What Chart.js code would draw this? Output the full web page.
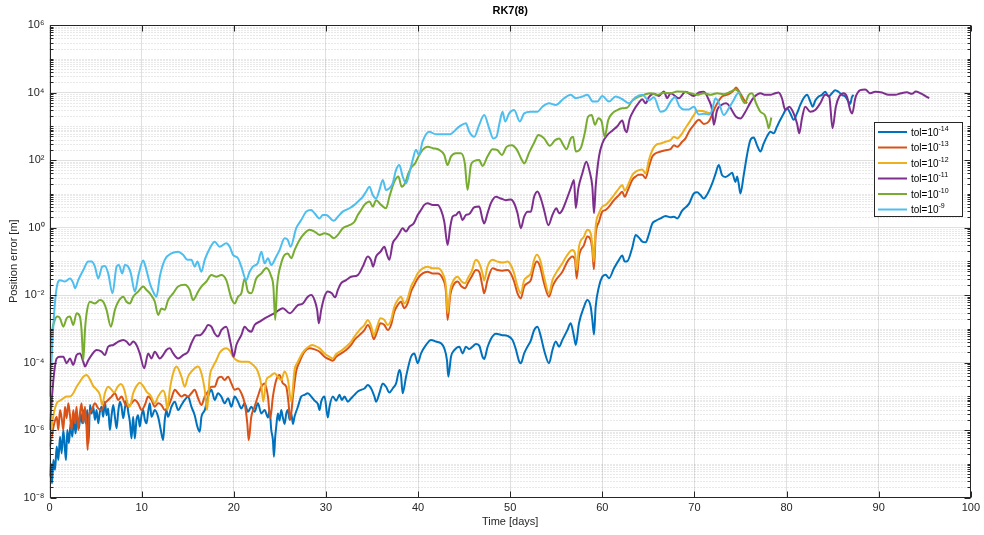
<!DOCTYPE html>
<html><head><meta charset="utf-8">
<script src="https://cdn.jsdelivr.net/npm/chart.js@4.4.1/dist/chart.umd.min.js"></script>
<style>html,body{margin:0;padding:0;background:#fff}canvas{display:block}</style>
</head><body>
<canvas id="c" width="984" height="535"></canvas>
<script>
// ---------- data (x = time in days, y = position error in m) ----------
const SERIES_NAMES = ['tol=10⁻¹⁴','tol=10⁻¹³','tol=10⁻¹²','tol=10⁻¹¹','tol=10⁻¹⁰','tol=10⁻⁹'];
const LEGEND_BASE = 'tol=10';
const LEGEND_EXP = ['-14','-13','-12','-11','-10','-9'];
const COLORS = ['#0072BD','#D95319','#EDB120','#7E2F8E','#77AC30','#4DBEEE'];
const X_TICKS = [0,10,20,30,40,50,60,70,80,90,100];
const Y_TICKS = [1e-8,1e-6,1e-4,1e-2,1,1e2,1e4,1e6];
const Y_TICK_LABELS = ['10⁻⁸','10⁻⁶','10⁻⁴','10⁻²','10⁰','10²','10⁴','10⁶'];

const tol14 = [[0.05,4.17e-8],[0.16,1.02e-7],[0.27,2.63e-8],[0.42,1.29e-7],[0.6,6.61e-8],[0.78,3.24e-7],[0.96,1.29e-7],[1.14,6.31e-7],[1.32,2.04e-7],[1.5,1.0e-6],[1.68,2.57e-7],[1.79,1.29e-7],[1.93,1.0e-6],[2.11,4.07e-7],[2.29,1.58e-6],[2.47,6.31e-7],[2.65,2.0e-6],[2.83,7.94e-7],[3.02,2.45e-6],[3.2,1.12e-6],[3.38,3.09e-6],[3.56,1.58e-6],[3.74,3.89e-6],[3.92,1.58e-6],[4.1,3.89e-6],[4.24,4.07e-7],[4.39,5.5e-6],[4.57,3.09e-6],[4.75,4.9e-6],[4.93,2.0e-6],[5.11,3.89e-6],[5.29,1.58e-6],[5.47,3.47e-6],[5.65,4.9e-6],[5.83,2.45e-6],[6.01,6.92e-6],[6.19,2.75e-6],[6.37,4.37e-6],[6.55,1.0e-6],[6.74,2.75e-6],[6.92,5.5e-6],[7.1,2.45e-6],[7.28,1.12e-6],[7.46,3.47e-6],[7.64,6.92e-6],[7.82,4.9e-6],[8.0,2.24e-6],[8.18,4.37e-6],[8.36,7.76e-6],[8.54,3.47e-6],[8.72,1.78e-6],[8.9,5.62e-7],[9.08,2.45e-6],[9.26,5.62e-7],[9.44,2.0e-6],[9.62,2.75e-6],[9.8,1.26e-6],[9.99,2.75e-6],[10.17,3.89e-6],[10.35,2.0e-6],[10.53,1.58e-6],[10.71,3.47e-6],[10.89,6.17e-6],[11.07,2.45e-6],[11.43,3.89e-6],[11.79,2.45e-6],[12.08,1.0e-6],[12.33,5.01e-7],[12.51,2.0e-6],[12.69,3.89e-6],[12.87,2.45e-6],[13.24,4.9e-6],[13.6,6.92e-6],[13.96,3.89e-6],[14.32,5.5e-6],[14.68,7.76e-6],[15.04,9.77e-6],[15.4,4.9e-6],[15.76,2.75e-6],[16.05,1.26e-6],[16.31,8.91e-7],[16.49,2.45e-6],[16.85,3.89e-6],[17.21,9.77e-6],[17.57,1.55e-5],[17.93,7.76e-6],[18.29,1.23e-5],[18.65,9.77e-6],[19.01,6.17e-6],[19.38,8.71e-6],[19.74,4.9e-6],[20.1,9.77e-6],[20.46,6.92e-6],[20.82,4.37e-6],[21.18,6.17e-6],[21.54,3.47e-6],[21.9,4.9e-6],[22.26,3.47e-6],[22.62,6.17e-6],[22.99,3.09e-6],[23.35,3.89e-6],[23.71,2.34e-6],[23.89,3.89e-6],[24.07,1.0e-6],[24.25,5.01e-7],[24.36,1.62e-7],[24.5,6.31e-7],[24.61,1.26e-6],[24.79,3.09e-6],[24.97,1.91e-6],[25.15,3.89e-6],[25.33,2.34e-6],[25.52,1.51e-6],[25.7,3.09e-6],[25.88,3.89e-6],[26.06,2.0e-6],[26.24,3.09e-6],[26.42,1.51e-6],[26.6,2.51e-6],[26.96,4.9e-6],[27.32,9.77e-6],[27.68,1.10e-5],[28.04,1.23e-5],[28.41,9.77e-6],[28.77,7.41e-6],[29.13,5.89e-6],[29.31,3.89e-6],[29.49,6.92e-6],[29.85,9.77e-6],[30.21,2.34e-6],[30.39,4.9e-6],[30.75,9.77e-6],[31.12,7.41e-6],[31.47,1.10e-5],[31.73,7.76e-6],[32.02,9.77e-6],[32.38,6.92e-6],[32.74,8.71e-6],[33.1,1.10e-5],[33.46,1.38e-5],[33.82,1.55e-5],[34.18,1.70e-5],[34.55,2.14e-5],[34.91,1.70e-5],[35.27,9.77e-6],[35.45,6.92e-6],[35.81,1.23e-5],[36.17,2.4e-5],[36.53,1.91e-5],[36.89,1.29e-5],[37.25,1.70e-5],[37.62,2.4e-5],[37.98,6.03e-5],[38.15,4.27e-5],[38.33,1.23e-5],[38.7,3.8e-5],[39.24,1.48e-4],[39.6,1.86e-4],[39.96,9.55e-5],[40.33,1.86e-4],[40.87,3.31e-4],[41.41,4.68e-4],[41.95,4.17e-4],[42.49,3.72e-4],[42.85,2.63e-4],[43.14,1.17e-4],[43.29,3.8e-5],[43.58,1.48e-4],[43.94,2.34e-4],[44.48,2.95e-4],[44.84,1.86e-4],[45.2,2.95e-4],[45.56,2.51e-4],[45.92,2.95e-4],[46.28,3.55e-4],[46.64,3.16e-4],[47.0,1.48e-4],[47.18,1.26e-4],[47.54,2.82e-4],[47.91,5.01e-4],[48.45,7.08e-4],[49.17,6.46e-4],[49.71,6.17e-4],[50.25,4.68e-4],[50.61,2.51e-4],[50.98,1.07e-4],[51.16,9.55e-5],[51.52,1.86e-4],[51.88,2.95e-4],[52.24,4.47e-4],[52.6,9.12e-4],[52.96,1.15e-3],[53.33,5.89e-4],[53.68,2.34e-4],[54.22,9.55e-5],[54.59,2.34e-4],[54.95,4.17e-4],[55.31,2.95e-4],[55.67,4.68e-4],[56.21,9.12e-4],[56.57,1.45e-3],[56.93,5.89e-4],[57.12,3.31e-4],[57.47,1.45e-3],[58.01,4.47e-3],[58.38,7.08e-3],[58.74,4.47e-3],[58.92,1.82e-3],[59.1,6.76e-4],[59.28,4.47e-3],[59.64,1.78e-2],[60.0,3.47e-2],[60.37,3.98e-2],[60.73,3.16e-2],[61.27,6.17e-2],[61.81,1.10e-1],[62.17,1.48e-1],[62.43,9.77e-2],[62.71,1.0e-1],[63.25,2.51e-1],[63.62,6.03e-1],[63.98,5.01e-1],[64.34,3.8e-1],[64.7,3.63e-1],[65.06,6.31e-1],[65.43,1.32],[65.79,1.58],[66.33,1.86],[66.87,2.19],[67.41,2.0],[67.77,2.09],[68.13,1.86],[68.67,3.16],[69.4,5.01],[69.94,10.2],[70.3,11.0],[70.66,9.12],[71.02,7.24],[71.38,9.55],[71.92,20],[72.28,38.0],[72.64,70.8],[73.0,35.5],[73.37,31.6],[73.73,35.5],[74.09,41.7],[74.45,22.4],[74.63,32.4],[74.81,19.5],[74.99,10.2],[75.35,35.5],[75.71,141],[76.07,389],[76.43,468],[76.79,275],[77.16,178],[77.52,309],[77.88,501],[78.24,692],[78.6,617],[78.96,977],[79.32,1550],[79.69,2400],[80.05,3390],[80.41,2400],[80.77,1550],[81.13,2400],[81.49,4270],[81.85,6760],[82.22,8510],[82.58,5370],[82.83,3800],[83.12,5750],[83.48,7590],[83.84,8510],[84.2,10500],[84.56,7590],[84.92,9550],[85.28,11700],[85.64,10500],[86.01,8510],[86.37,7590],[86.73,5370],[86.91,4570],[87.09,7240],[87.27,8510]];

const tol13 = [[0.05,3.24e-7],[0.23,6.31e-7],[0.52,1.58e-6],[0.78,2.45e-6],[0.96,1.0e-6],[1.14,3.89e-6],[1.32,2.24e-6],[1.5,1.0e-6],[1.68,4.9e-6],[1.86,2.24e-6],[2.04,6.17e-6],[2.22,2.75e-6],[2.4,1.0e-6],[2.58,3.89e-6],[2.76,1.58e-6],[2.94,4.9e-6],[3.12,1.0e-6],[3.3,3.09e-6],[3.48,6.17e-6],[3.67,1.58e-6],[3.85,4.9e-6],[4.03,1.0e-6],[4.14,2.57e-7],[4.28,2.45e-6],[4.57,3.89e-6],[4.93,6.17e-6],[5.29,4.37e-6],[5.65,3.89e-6],[6.01,6.17e-6],[6.37,7.76e-6],[6.74,9.77e-6],[7.1,1.23e-5],[7.46,7.76e-6],[7.82,9.77e-6],[8.18,6.17e-6],[8.54,4.9e-6],[8.9,6.17e-6],[9.26,7.76e-6],[9.62,6.17e-6],[9.99,3.89e-6],[10.35,5.5e-6],[10.71,9.77e-6],[11.07,7.76e-6],[11.43,4.9e-6],[11.79,6.17e-6],[12.15,5.5e-6],[12.51,3.89e-6],[12.87,4.9e-6],[13.24,8.71e-6],[13.6,1.55e-5],[13.96,1.23e-5],[14.32,9.77e-6],[14.68,1.10e-5],[15.04,9.77e-6],[15.4,1.23e-5],[15.76,1.55e-5],[16.13,8.71e-6],[16.49,5.5e-6],[16.85,9.77e-6],[17.21,1.38e-5],[17.57,1.91e-5],[17.93,1.91e-5],[18.29,3.39e-5],[18.65,3.8e-5],[19.01,3.02e-5],[19.38,3.8e-5],[19.74,2.4e-5],[20.1,1.55e-5],[20.46,1.70e-5],[20.82,1.23e-5],[21.18,6.17e-6],[21.47,1.58e-6],[21.62,5.01e-7],[21.9,2.45e-6],[22.26,4.9e-6],[22.62,1.0e-5],[22.99,1.91e-5],[23.35,2.4e-5],[23.71,9.77e-6],[23.96,2.24e-6],[24.25,9.77e-6],[24.61,3.02e-5],[24.97,4.27e-5],[25.33,2.4e-5],[25.7,1.91e-5],[25.95,6.17e-6],[26.13,2.0e-6],[26.42,9.77e-6],[26.78,5.62e-5],[27.14,1.05e-4],[27.68,2.09e-4],[28.23,2.63e-4],[28.77,2.45e-4],[29.31,2.09e-4],[29.85,1.48e-4],[30.39,1.23e-4],[30.75,1.12e-4],[31.12,1.48e-4],[31.66,1.86e-4],[32.2,2.34e-4],[32.74,3.31e-4],[33.1,4.68e-4],[33.64,6.46e-4],[34.18,9.12e-4],[34.55,1.29e-3],[34.91,8.71e-4],[35.19,4.9e-4],[35.55,8.13e-4],[35.92,1.45e-3],[36.35,1.29e-3],[36.71,9.12e-4],[37.07,1.29e-3],[37.43,3.24e-3],[37.79,5.01e-3],[38.15,6.31e-3],[38.51,4.07e-3],[38.87,5.62e-3],[39.24,1.26e-2],[39.6,2.0e-2],[39.96,3.09e-2],[40.5,4.37e-2],[41.04,4.9e-2],[41.59,4.37e-2],[42.13,4.37e-2],[42.67,3.09e-2],[43.03,1.26e-2],[43.21,1.82e-3],[43.5,1.0e-2],[43.86,2.0e-2],[44.29,2.51e-2],[44.73,1.78e-2],[45.09,1.58e-2],[45.45,2.34e-2],[45.81,3.47e-2],[46.28,5.5e-2],[46.64,4.9e-2],[47.0,1.78e-2],[47.18,1.12e-2],[47.54,2.75e-2],[48.09,6.17e-2],[48.63,5.5e-2],[49.17,5.25e-2],[49.71,5.5e-2],[50.07,4.37e-2],[50.43,2.51e-2],[50.8,1.12e-2],[51.16,7.94e-3],[51.52,1.78e-2],[51.88,2.24e-2],[52.24,2.75e-2],[52.6,6.92e-2],[52.89,9.77e-2],[53.25,6.92e-2],[53.68,2.24e-2],[54.22,8.91e-3],[54.59,1.78e-2],[54.95,2.75e-2],[55.67,4.9e-2],[56.21,9.77e-2],[56.75,1.38e-1],[57.04,1.10e-1],[57.22,3.09e-2],[57.47,1.38e-1],[58.01,3.02e-1],[58.38,5.37e-1],[58.74,4.27e-1],[58.92,2.14e-1],[59.09,5.75e-2],[59.28,6.03e-1],[59.64,1.48],[60.0,2.95],[60.37,3.31],[60.73,4.17],[61.27,6.46],[61.81,9.12],[62.17,11.5],[62.43,8.13],[62.71,11.5],[63.25,25.7],[63.62,32.4],[63.98,36.3],[64.34,36.3],[64.7,28.8],[65.06,63.1],[65.43,126],[65.79,158],[66.33,178],[66.87,195],[67.41,209],[67.77,275],[68.13,245],[68.67,347],[69.03,437],[69.4,692],[69.94,1100],[70.48,1550],[71.02,1170],[71.56,1380],[72.28,3800],[73.0,7590],[73.73,8910],[74.27,11700],[74.52,14100],[74.81,11200],[75.35,6310],[75.71,4790]];

const tol12 = [[0.02,2.51e-7],[0.2,1.0e-6],[0.4,2.51e-6],[0.78,6.17e-6],[1.14,7.41e-6],[1.5,8.71e-6],[1.86,9.77e-6],[2.22,9.77e-6],[2.58,1.23e-5],[2.94,1.91e-5],[3.3,2.69e-5],[3.67,3.8e-5],[4.03,4.27e-5],[4.39,3.16e-5],[4.75,2.0e-5],[5.11,1.58e-5],[5.47,1.10e-5],[5.72,5.5e-6],[6.01,1.23e-5],[6.37,1.91e-5],[6.74,1.55e-5],[7.02,1.29e-5],[7.39,1.91e-5],[7.75,2.29e-5],[8.11,1.58e-5],[8.47,6.17e-6],[8.72,4.9e-6],[9.08,1.23e-5],[9.44,2.0e-5],[9.8,2.51e-5],[10.17,2.0e-5],[10.53,1.38e-5],[11.0,1.02e-5],[11.43,6.17e-6],[11.79,9.77e-6],[12.33,1.48e-5],[12.59,9.77e-6],[12.8,3.89e-6],[13.06,1.55e-5],[13.42,4.79e-5],[13.78,7.59e-5],[14.32,3.8e-5],[14.68,1.91e-5],[15.04,3.8e-5],[15.4,5.37e-5],[16.13,7.59e-5],[16.49,4.79e-5],[16.85,1.55e-5],[17.1,3.89e-6],[17.39,3.8e-5],[17.75,7.59e-5],[18.11,1.17e-4],[18.47,1.95e-4],[18.83,2.45e-4],[19.19,2.63e-4],[19.56,2.24e-4],[19.92,1.48e-4],[20.28,1.17e-4],[20.82,1.05e-4],[21.54,1.05e-4],[22.08,8.51e-5],[22.62,5.37e-5],[22.99,2.14e-5],[23.2,6.92e-6],[23.53,3.02e-5],[23.89,3.8e-5],[24.43,4.79e-5],[24.79,3.8e-5],[25.15,3.02e-5],[25.52,5.37e-5],[25.88,3.02e-5],[26.24,6.92e-6],[26.6,6.03e-5],[26.96,1.05e-4],[27.5,2.0e-4],[28.04,2.82e-4],[28.5,3.31e-4],[28.77,3.16e-4],[29.31,2.63e-4],[29.85,1.86e-4],[30.39,1.48e-4],[30.75,1.32e-4],[31.12,1.78e-4],[31.66,2.24e-4],[32.2,2.95e-4],[32.74,4.17e-4],[33.1,5.89e-4],[33.64,9.12e-4],[34.18,1.29e-3],[34.55,1.82e-3],[34.91,1.20e-3],[35.19,6.46e-4],[35.55,1.15e-3],[35.92,2.04e-3],[36.35,1.82e-3],[36.71,1.29e-3],[37.07,1.82e-3],[37.43,4.47e-3],[37.79,7.08e-3],[38.15,8.91e-3],[38.51,5.62e-3],[38.87,7.94e-3],[39.24,1.78e-2],[39.6,2.75e-2],[39.96,4.37e-2],[40.5,6.17e-2],[41.04,6.92e-2],[41.59,6.17e-2],[42.13,6.17e-2],[42.67,4.37e-2],[43.03,1.78e-2],[43.21,2.88e-3],[43.5,1.41e-2],[43.86,2.75e-2],[44.29,3.47e-2],[44.73,2.51e-2],[45.09,2.24e-2],[45.45,3.31e-2],[45.81,4.9e-2],[46.28,1.10e-1],[46.64,8.71e-2],[47.0,4.37e-2],[47.18,2.69e-2],[47.54,6.92e-2],[48.09,1.10e-1],[48.63,9.77e-2],[49.17,9.12e-2],[49.71,9.77e-2],[50.07,7.76e-2],[50.43,4.37e-2],[50.8,1.78e-2],[51.16,1.12e-2],[51.52,2.75e-2],[51.88,3.47e-2],[52.24,4.37e-2],[52.6,1.10e-1],[52.89,1.55e-1],[53.25,1.10e-1],[53.68,3.47e-2],[54.22,1.12e-2],[54.59,2.75e-2],[54.95,4.37e-2],[55.67,8.71e-2],[56.21,1.55e-1],[56.75,2.14e-1],[57.04,1.70e-1],[57.22,5.5e-2],[57.47,2.69e-1],[58.01,5.37e-1],[58.38,8.51e-1],[58.74,6.76e-1],[58.92,3.02e-1],[59.07,9.77e-2],[59.28,1.05],[59.64,2.63],[60.0,4.17],[60.37,4.68],[60.73,5.89],[61.27,9.12],[61.81,14.5],[62.17,18.2],[62.43,12.3],[62.71,16.2],[63.25,35.5],[63.62,44.7],[63.98,50.1],[64.34,52.5],[64.7,39.8],[65.06,100],[65.43,195],[65.79,275],[66.33,309],[66.87,347],[67.41,389],[67.77,490],[68.13,437],[68.67,617],[69.03,891],[69.4,1260],[69.94,2140],[70.3,2880],[70.84,2820],[71.38,2570],[71.74,2400]];

const tol11 = [[0.02,1.0e-6],[0.42,3.02e-5],[0.78,1.32e-4],[1.14,1.48e-4],[1.5,1.48e-4],[1.86,9.55e-5],[2.22,1.32e-4],[2.58,8.51e-5],[2.94,1.66e-4],[3.3,1.86e-4],[3.67,1.05e-4],[3.85,7.59e-5],[4.21,1.17e-4],[4.57,1.66e-4],[5.11,2.34e-4],[5.65,2.09e-4],[6.01,1.66e-4],[6.37,2.95e-4],[6.92,3.31e-4],[7.46,4.17e-4],[8.0,4.68e-4],[8.36,4.17e-4],[8.72,3.31e-4],[9.08,4.17e-4],[9.44,3.31e-4],[9.8,1.86e-4],[10.28,6.76e-5],[10.71,1.86e-4],[11.07,1.32e-4],[11.43,2.09e-4],[11.97,1.32e-4],[12.33,1.66e-4],[12.69,2.34e-4],[13.06,2.63e-4],[13.42,1.86e-4],[13.96,1.32e-4],[14.5,1.66e-4],[15.04,2.09e-4],[15.4,3.72e-4],[15.94,6.46e-4],[16.31,6.46e-4],[16.85,9.12e-4],[17.21,1.29e-3],[17.57,1.15e-3],[17.93,7.24e-4],[18.29,5.89e-4],[18.65,9.12e-4],[19.19,1.15e-3],[19.66,3.72e-4],[19.99,1.48e-4],[20.28,3.31e-4],[20.82,6.46e-4],[21.18,1.15e-3],[21.54,9.12e-4],[21.9,8.13e-4],[22.26,1.29e-3],[22.8,1.62e-3],[23.35,2.04e-3],[23.71,2.29e-3],[24.43,2.88e-3],[25.33,4.07e-3],[26.06,2.88e-3],[26.96,5.01e-3],[27.5,5.62e-3],[28.04,8.91e-3],[28.41,1.0e-2],[28.77,7.08e-3],[29.05,3.63e-3],[29.23,1.45e-3],[29.49,3.63e-3],[29.85,8.91e-3],[30.21,1.26e-2],[30.64,1.12e-2],[31.0,8.51e-3],[31.3,1.41e-2],[31.66,2.24e-2],[32.2,2.75e-2],[32.74,3.47e-2],[33.46,3.89e-2],[34.0,6.92e-2],[34.55,1.38e-1],[34.91,1.05e-1],[35.12,6.92e-2],[35.45,1.38e-1],[35.92,1.91e-1],[36.35,2.69e-1],[36.64,1.55e-1],[36.89,1.10e-1],[37.25,3.39e-1],[37.61,4.79e-1],[37.97,6.76e-1],[38.33,9.55e-1],[38.69,7.59e-1],[39.06,1.05],[39.53,1.32],[39.96,2.34],[40.32,3.31],[40.68,4.68],[41.05,5.25],[41.59,4.68],[42.13,4.68],[42.49,3.31],[42.85,1.48],[43.21,3.02e-1],[43.5,1.05],[43.75,2.09],[44.11,2.34],[44.47,2.95],[44.83,1.66],[45.19,2.34],[45.56,2.51],[46.1,3.98],[46.64,4.17],[47.0,1.74],[47.18,1.32],[47.54,2.63],[47.91,5.25],[48.45,8.13],[48.99,7.24],[49.53,6.46],[50.08,6.76],[50.43,5.25],[50.8,2.63],[51.16,9.55e-1],[51.52,2.09],[51.88,2.95],[52.24,2.95],[52.6,8.13],[52.96,11.7],[53.33,7.24],[53.68,3.31],[54.15,1.17],[54.59,2.34],[55.02,3.72],[55.31,2.63],[55.67,3.31],[56.1,6.46],[56.57,14.5],[56.93,25.7],[57.12,3.72],[57.4,14.5],[57.83,39.8],[58.27,89.1],[58.63,44.7],[58.92,16.2],[59.1,2.63],[59.28,16.2],[59.64,126],[60.0,309],[60.54,550],[61.09,741],[61.63,1000],[62.17,1480],[62.46,776],[62.64,661],[62.96,1620],[63.43,3020],[63.97,5010],[64.34,6310],[64.7,4790],[65.06,7240],[65.6,9120],[66.14,7940],[66.68,10700],[67.05,6760],[67.41,9550],[68.31,6760],[69.03,10500],[69.94,7940],[70.48,10000],[71.02,10500],[71.56,6030],[71.92,3020],[72.1,1100],[72.46,3020],[72.93,4270],[73.44,4790],[73.8,3980],[74.16,2690],[74.52,1910],[74.99,1700],[75.53,2690],[76.07,5010],[76.54,7590],[77.16,9550],[77.7,8510],[78.24,8510],[78.78,9550],[79.14,10000],[79.5,6760],[79.87,3020],[80.3,3800],[80.77,2400],[81.13,1230],[81.38,617],[81.67,1700],[82.03,3800],[82.57,2690],[83.11,3020],[83.66,4790],[84.2,8510],[84.63,7590],[84.99,871],[85.35,3800],[85.72,7590],[86.19,9550],[86.55,7590],[86.91,3020],[87.13,2400],[87.46,6760],[88.0,11700],[88.54,12300],[89.08,9550],[89.62,10500],[90.35,10000],[91.07,8510],[91.79,8510],[92.44,9550],[93.06,10200],[93.6,9120],[94.03,10700],[94.5,9550],[95.04,7940],[95.48,6760]];

const tol10 = [[0.05,9.8e-6],[0.23,4.68e-4],[0.52,1.62e-3],[0.88,2.29e-3],[1.14,2.04e-3],[1.5,1.15e-3],[1.86,2.04e-3],[2.22,2.29e-3],[2.58,1.29e-3],[2.94,2.88e-3],[3.3,2.29e-3],[3.48,9.12e-4],[3.67,1.17e-4],[3.85,9.12e-4],[4.03,2.88e-3],[4.39,6.31e-3],[4.93,5.62e-3],[5.47,7.08e-3],[5.83,6.31e-3],[6.19,3.63e-3],[6.66,1.15e-3],[7.1,3.63e-3],[7.46,6.31e-3],[8.0,8.91e-3],[8.36,6.31e-3],[8.72,5.62e-3],[9.08,8.91e-3],[9.62,1.26e-2],[10.17,1.78e-2],[10.53,1.41e-2],[10.89,1.12e-2],[11.43,6.31e-3],[11.79,2.57e-3],[12.15,3.98e-3],[12.51,3.63e-3],[12.87,7.08e-3],[13.42,1.12e-2],[13.96,1.78e-2],[14.68,2.0e-2],[15.22,1.41e-2],[15.58,7.08e-3],[16.13,1.26e-2],[16.49,1.78e-2],[17.03,2.51e-2],[17.57,3.89e-2],[18.11,3.47e-2],[18.65,3.89e-2],[19.19,2.75e-2],[19.74,7.94e-3],[20.1,5.62e-3],[20.46,8.91e-3],[20.82,1.12e-2],[21.18,3.09e-2],[21.54,1.26e-2],[21.9,1.12e-2],[22.44,3.09e-2],[23.0,4.37e-2],[23.53,6.31e-2],[24.07,3.55e-2],[24.3,1.78e-2],[24.5,1.82e-3],[24.7,1.78e-2],[25.15,8.71e-2],[25.52,1.55e-1],[25.87,1.70e-1],[26.24,1.23e-1],[26.6,2.14e-1],[27.14,4.27e-1],[27.69,6.76e-1],[28.23,8.51e-1],[28.77,7.59e-1],[29.31,6.03e-1],[29.85,6.76e-1],[30.39,6.03e-1],[30.86,4.79e-1],[31.3,6.03e-1],[31.83,9.55e-1],[32.56,1.17],[33.1,1.48],[33.46,2.34],[33.82,3.31],[34.18,4.68],[34.73,5.89],[35.09,4.17],[35.45,6.46],[35.99,4.68],[36.53,3.72],[36.89,8.13],[37.43,22.9],[37.87,32.4],[38.22,16.2],[38.59,20.4],[38.96,40.7],[39.32,63.1],[39.68,79.4],[40.04,126],[40.5,200],[41.05,245],[41.6,224],[42.3,200],[42.85,141],[43.2,70.8],[43.57,126],[44.11,158],[44.65,158],[45.08,79.4],[45.37,12.9],[45.74,70.8],[46.1,93.3],[46.64,100],[47.0,66.1],[47.54,126],[48.09,209],[48.63,195],[49.1,141],[49.6,245],[50.18,275],[50.69,209],[51.27,100],[51.52,79.4],[52.06,166],[52.6,324],[53.07,550],[53.68,437],[54.3,263],[54.88,389],[55.31,437],[55.78,275],[56.11,209],[56.58,437],[56.83,490],[57.12,178],[57.66,224],[58.13,692],[58.45,1910],[58.85,2140],[59.21,1100],[59.57,1740],[59.93,1380],[60.26,490],[60.65,1550],[61.09,2400],[61.63,3020],[62.17,3390],[62.71,3550],[63.25,5750],[63.8,7240],[64.52,8510],[65.24,9550],[65.96,8510],[66.68,9770],[67.41,9550],[68.13,10700],[68.85,10500],[69.58,9550],[70.3,8510],[71.02,9550],[71.74,8510],[72.47,9550],[73.19,8910],[73.91,10500],[74.45,12300],[74.89,9550],[75.17,6310],[75.46,4790],[75.89,8510],[76.25,9550],[76.69,4790],[77.16,2690],[77.63,2140],[77.88,1380],[78.06,871],[78.35,1820]];

const tol9 = [[0.05,1e-5],[0.3,3.16e-4],[0.6,6.31e-3],[0.88,2.24e-2],[1.14,2.75e-2],[1.68,2.51e-2],[2.22,3.09e-2],[2.58,2.24e-2],[2.76,1.58e-2],[3.12,2.75e-2],[3.67,5.5e-2],[4.21,9.77e-2],[4.57,9.77e-2],[4.93,6.92e-2],[5.29,3.09e-2],[5.72,6.92e-2],[6.01,7.24e-2],[6.37,4.37e-2],[6.84,1.12e-2],[7.28,6.92e-2],[7.53,7.76e-2],[7.89,4.37e-2],[8.18,7.76e-2],[8.54,6.92e-2],[8.83,4.37e-2],[9.26,1.26e-2],[9.7,4.37e-2],[10.17,1.05e-1],[10.42,6.92e-2],[10.89,2.24e-2],[11.25,1.26e-2],[11.61,8.91e-3],[11.97,3.47e-2],[12.51,1.10e-1],[13.24,1.70e-1],[13.96,1.91e-1],[14.5,1.55e-1],[14.97,1.10e-1],[15.4,1.10e-1],[15.76,6.92e-2],[16.05,9.77e-2],[16.49,4.9e-2],[16.85,1.10e-1],[17.39,2.4e-1],[17.93,3.8e-1],[18.47,2.69e-1],[19.19,3.39e-1],[19.56,2.69e-1],[19.92,1.55e-1],[20.46,1.23e-1],[20.82,6.92e-2],[21.36,2.75e-2],[21.72,4.9e-2],[22.08,6.92e-2],[22.6,8.71e-2],[23.0,1.91e-1],[23.35,8.71e-2],[23.71,1.23e-1],[24.07,7.76e-2],[24.61,1.38e-1],[24.97,2.14e-1],[25.52,4.79e-1],[25.87,4.27e-1],[26.16,2.69e-1],[26.78,9.55e-1],[27.32,1.66],[27.86,2.95],[28.4,3.31],[28.77,2.63],[29.3,1.86],[29.67,2.34],[30.03,2.34],[30.86,1.58],[31.3,2.09],[31.83,2.95],[32.56,3.72],[33.1,4.68],[33.64,6.46],[34.0,8.13],[34.36,11.5],[34.73,16.2],[35.09,9.12],[35.45,7.24],[35.81,12.9],[36.17,25.7],[36.53,12.9],[36.89,14.5],[37.25,20.4],[37.61,50.1],[37.97,70.8],[38.33,32.4],[38.69,20.4],[39.06,40.7],[39.42,100],[39.78,200],[40.1,141],[40.5,355],[41.2,692],[41.95,575],[43.39,575],[44.47,977],[45.2,1230],[45.56,692],[46.1,490],[46.64,1100],[47.18,2140],[47.72,871],[48.16,437],[48.52,490],[48.88,1380],[49.17,2690],[49.46,1380],[49.89,2400],[50.43,3020],[51.05,1380],[51.52,2400],[52.24,2690],[52.96,2690],[53.5,3800],[54.22,4790],[54.95,4270],[55.85,6760],[56.57,8510],[57.11,6760],[57.83,7590],[58.38,8510],[58.99,5370],[59.46,5370],[60.0,7940],[60.72,5370],[61.45,7590],[62.17,6310],[62.89,4790],[63.61,7240],[64.34,8510],[65.06,5750],[65.6,7240],[66.33,2690],[66.87,3020],[67.41,5370],[67.88,7240],[68.39,3800],[68.86,3160],[69.4,3160],[69.94,3800],[70.48,2240],[71.02,2340],[71.56,2240],[71.92,3020],[72.28,6760],[72.64,5010],[73.19,2140],[73.73,3390],[74.27,6030],[74.74,9550],[75.0,9550]];

const SERIES = [tol14, tol13, tol12, tol11, tol10, tol9];

// ---------- MATLAB-style axes box, minor grid, inward ticks and legend ----------
const FONT = "'Liberation Sans', Arial, Helvetica, sans-serif";
const AXIS_COLOR = '#262626';

const matlabAxes = {
  id: 'matlabAxes',
  beforeDatasetsDraw(chart) {
    const {ctx, chartArea: a, scales: {y}} = chart;
    ctx.save();
    ctx.strokeStyle = 'rgba(60,60,60,0.22)';
    ctx.lineWidth = 1;
    ctx.setLineDash([1, 2]);
    for (let n = -8; n < 6; n++) {
      for (let k = 1; k <= 9; k++) {
        if (k === 1 && n % 2 === 0) continue;
        const py = Math.round(y.getPixelForValue(k * Math.pow(10, n))) + 0.5;
        ctx.beginPath(); ctx.moveTo(a.left, py); ctx.lineTo(a.right, py); ctx.stroke();
      }
    }
    ctx.restore();
  },
  afterDatasetsDraw(chart) {
    const {ctx, chartArea: a, scales: {x, y}} = chart;
    ctx.save();
    ctx.setLineDash([]);
    ctx.strokeStyle = AXIS_COLOR;
    ctx.lineWidth = 1;
    const L = Math.round(a.left) + 0.5, R = Math.round(a.right) - 0.5;
    const T = Math.round(a.top) + 0.5, B = Math.round(a.bottom) - 0.5;
    ctx.strokeRect(L, T, R - L, B - T);
    ctx.beginPath();
    X_TICKS.forEach(v => {
      const px = Math.round(x.getPixelForValue(v)) + 0.5;
      ctx.moveTo(px, B); ctx.lineTo(px, B - 6);
      ctx.moveTo(px, T); ctx.lineTo(px, T + 6);
    });
    for (let n = -8; n <= 6; n++) {
      for (let k = 1; k <= 9; k++) {
        if (n === 6 && k > 1) break;
        const major = (k === 1 && n % 2 === 0);
        const len = major ? 6 : 3;
        const py = Math.round(y.getPixelForValue(k * Math.pow(10, n))) + 0.5;
        ctx.moveTo(L, py); ctx.lineTo(L + len, py);
        ctx.moveTo(R, py); ctx.lineTo(R - len, py);
      }
    }
    ctx.stroke();

    // legend box
    const lx = 874, ly = 122, lw = 88, lh = 94;
    ctx.fillStyle = '#ffffff';
    ctx.fillRect(lx, ly, lw, lh);
    ctx.strokeStyle = AXIS_COLOR;
    ctx.strokeRect(lx + 0.5, ly + 0.5, lw, lh);
    ctx.textBaseline = 'middle';
    ctx.textAlign = 'left';
    LEGEND_EXP.forEach((ex, i) => {
      const ry = ly + 10 + i * 15.5;
      ctx.strokeStyle = COLORS[i];
      ctx.lineWidth = 2;
      ctx.beginPath(); ctx.moveTo(lx + 4, ry); ctx.lineTo(lx + 33, ry); ctx.stroke();
      ctx.fillStyle = '#000';
      ctx.font = '10px ' + FONT;
      ctx.fillText(LEGEND_BASE, lx + 37, ry + 1);
      const w = ctx.measureText(LEGEND_BASE).width;
      ctx.font = '7px ' + FONT;
      ctx.fillText(ex, lx + 37 + w, ry - 3);
    });
    ctx.restore();
  }
};

Chart.defaults.font.family = FONT;
Chart.defaults.color = AXIS_COLOR;

new Chart(document.getElementById('c'), {
  type: 'line',
  data: {
    datasets: SERIES.map((s, i) => ({
      label: SERIES_NAMES[i],
      data: s.map(([t, e]) => ({x: t, y: e})),
      borderColor: COLORS[i],
      backgroundColor: COLORS[i],
      borderWidth: 2,
      pointRadius: 0,
      fill: false,
      cubicInterpolationMode: 'monotone',
      order: 6 - i
    }))
  },
  options: {
    responsive: false,
    animation: false,
    devicePixelRatio: 1,
    layout: {padding: {left: 0, right: 12, top: 0, bottom: 0}},
    plugins: {
      legend: {display: false},
      tooltip: {enabled: false},
      title: {
        display: true, text: 'RK7(8)', fullSize: false, color: '#000',
        font: {size: 11, weight: 'bold'}, padding: {top: 4, bottom: 7.8}
      }
    },
    scales: {
      x: {
        type: 'linear', min: 0, max: 100,
        afterBuildTicks: s => { s.ticks = X_TICKS.map(v => ({value: v})); },
        afterFit: s => { s.height = 37.5; },
        grid: {color: '#e0e0e0', drawTicks: false},
        border: {display: false},
        ticks: {color: AXIS_COLOR, font: {size: 11}, padding: 4, maxRotation: 0, autoSkip: false},
        title: {display: true, text: 'Time [days]', color: AXIS_COLOR, font: {size: 11}, padding: {top: 0, bottom: 6}}
      },
      y: {
        type: 'logarithmic', min: 1e-8, max: 1e6,
        afterBuildTicks: s => { s.ticks = Y_TICKS.map(v => ({value: v})); },
        afterFit: s => { s.width = 49.5; },
        grid: {color: '#e0e0e0', drawTicks: false},
        border: {display: false},
        ticks: {color: AXIS_COLOR, font: {size: 11}, padding: 5, autoSkip: false,
                callback: (v, i) => Y_TICK_LABELS[i]},
        title: {display: true, text: 'Position error [m]', color: AXIS_COLOR, font: {size: 11}, padding: {top: 7, bottom: 0}}
      }
    }
  },
  plugins: [matlabAxes]
});
</script>
</body></html>
